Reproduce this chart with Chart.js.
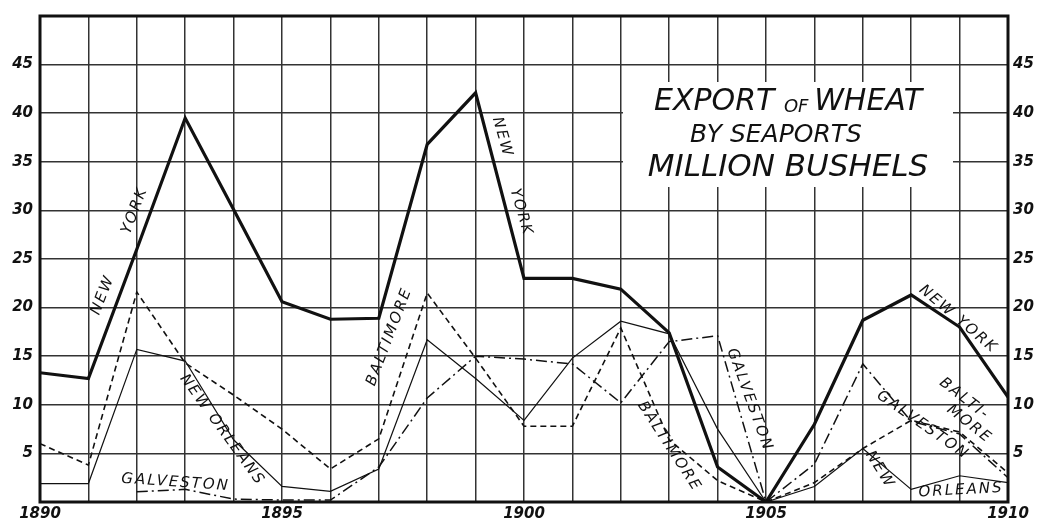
<!DOCTYPE html>
<html>
<head>
<meta charset="utf-8">
<title>Export of wheat by seaports</title>
<script src="https://cdn.jsdelivr.net/npm/chart.js@4.4.1/dist/chart.umd.min.js"></script>
<style>
    html, body { margin: 0; padding: 0; background: #fff; }
    #wrap { width: 1039px; height: 524px; }
</style>
</head>
<body>
<div id="wrap"><canvas id="wheat-chart"></canvas></div>
<script>
// million bushels
const years = [1890, 1891, 1892, 1893, 1894, 1895, 1896, 1897, 1898, 1899, 1900,
    1901, 1902, 1903, 1904, 1905, 1906, 1907, 1908, 1909, 1910];
const newYork = [13.3, 12.7, 26.0, 39.5, 30.1, 20.6, 18.8, 18.9, 36.8, 42.1, 23.0,
    23.0, 21.9, 17.4, 3.6, 0, 8.0, 18.7, 21.3, 18.0, 10.8];
const baltimore = [6.0, 3.8, 21.6, 14.3, 11.0, 7.5, 3.4, 6.5, 21.5, 14.8, 7.8,
    7.8, 17.9, 6.4, 2.2, 0, 2.0, 5.5, 8.4, 7.2, 3.0];
const newOrleans = [1.9, 1.9, 15.7, 14.5, 6.4, 1.6, 1.1, 3.4, 16.7, 12.7, 8.4,
    14.8, 18.6, 17.3, 7.5, 0, 1.6, 5.5, 1.3, 2.7, 2.0];
const galveston = [null, null, 1.05, 1.3, 0.3, 0.2, 0.2, 3.6, 10.7, 15.0, 14.7,
    14.2, 10.2, 16.5, 17.1, 0, 3.9, 14.2, 8.3, 7.0, 2.5];

const yearLabels = [1890, 1895, 1900, 1905, 1910];
const valueLabels = [5, 10, 15, 20, 25, 30, 35, 40, 45];

const titleLines = ['EXPORT OF WHEAT', 'BY SEAPORTS', 'MILLION BUSHELS'];

// series names written along the lines: [text, year, value, angle]
const lineNotes = [
    ['NEW', 1891.30, 21.3, -69],
    ['YORK', 1891.96, 30.0, -69],
    ['NEW', 1899.55, 37.5, 74],
    ['YORK', 1899.94, 29.8, 74],
    ['NEW ORLEANS', 1893.76, 7.4, 54],
    ['GALVESTON', 1892.8, 2.0, 4],
    ['BALTIMORE', 1897.22, 17.0, -69],
    ['BALTIMORE', 1903.0, 5.7, 57],
    ['GALVESTON', 1904.66, 10.5, 70],
    ['NEW YORK', 1908.97, 18.8, 40],
    ['BALTI-', 1909.1, 10.6, 38],
    ['MORE', 1909.2, 8.0, 38],
    ['GALVESTON', 1908.24, 7.9, 35],
    ['NEW', 1907.35, 3.3, 58],
    ['ORLEANS', 1909.03, 1.2, -3],
];

const ink = '#111';
const hand = '"DejaVu Sans", sans-serif';

function points(values) {
    return years.map((yr, i) => ({ x: yr, y: values[i] }));
}

const paperPlugin = {
    id: 'paper',
    beforeDatasetsDraw(chart) {
        const { ctx, chartArea: a } = chart;
        ctx.save();

        // blank panel for the title
        ctx.fillStyle = '#fff';
        ctx.fillRect(a.left + 583, 82, 330, 105);

        ctx.fillStyle = ink;
        ctx.textBaseline = 'middle';
        ctx.textAlign = 'left';

        const cx = a.left + 748;
        // first line with the small "OF"
        const big = 'italic 30px ' + hand;
        const small = 'italic 18px ' + hand;
        const parts = [['EXPORT ', big], ['OF ', small], ['WHEAT', big]];
        let w = 0;
        parts.forEach(([t, f]) => { ctx.font = f; w += ctx.measureText(t).width; });
        let x = cx - w / 2;
        parts.forEach(([t, f]) => {
            ctx.font = f;
            ctx.fillText(t, x, t === 'OF ' ? 107 : 102);
            x += ctx.measureText(t).width;
        });

        ctx.textAlign = 'center';
        ctx.font = 'italic 25px ' + hand;
        ctx.fillText(titleLines[1], cx - 12, 135);
        ctx.font = 'italic 31px ' + hand;
        ctx.fillText(titleLines[2], cx, 168);

        ctx.restore();
    },
    afterDatasetsDraw(chart) {
        const { ctx, chartArea: a, scales } = chart;
        ctx.save();

        ctx.fillStyle = ink;
        ctx.textAlign = 'center';
        ctx.textBaseline = 'middle';
        ctx.font = 'italic 15px ' + hand;
        ctx.letterSpacing = '2px';
        lineNotes.forEach(([text, yr, v, angle]) => {
            ctx.save();
            ctx.translate(scales.x.getPixelForValue(yr), scales.y.getPixelForValue(v));
            ctx.rotate(angle * Math.PI / 180);
            ctx.fillText(text, 0, 0);
            ctx.restore();
        });

        // heavy frame
        ctx.strokeStyle = ink;
        ctx.lineWidth = 3;
        ctx.strokeRect(a.left, a.top, a.right - a.left, a.bottom - a.top);
        ctx.restore();
    },
};

const tickFont = { family: hand, size: 15, style: 'italic', weight: 'bold' };

new Chart(document.getElementById('wheat-chart'), {
    type: 'line',
    data: {
        datasets: [
            {
                label: 'New York',
                data: points(newYork),
                borderColor: ink,
                borderWidth: 3.2,
            },
            {
                label: 'Baltimore',
                data: points(baltimore),
                borderColor: ink,
                borderWidth: 1.6,
                borderDash: [6, 4],
            },
            {
                label: 'New Orleans',
                data: points(newOrleans),
                borderColor: ink,
                borderWidth: 1.2,
            },
            {
                label: 'Galveston',
                data: points(galveston),
                borderColor: ink,
                borderWidth: 1.5,
                borderDash: [11, 4, 2, 4],
            },
        ],
    },
    options: {
        responsive: true,
        maintainAspectRatio: false,
        animation: false,
        layout: { padding: { top: 12 } },
        elements: {
            point: { radius: 0 },
            line: { tension: 0, fill: false, borderJoinStyle: 'miter' },
        },
        plugins: {
            legend: { display: false },
            tooltip: { enabled: false },
        },
        scales: {
            x: {
                type: 'linear',
                min: 1890,
                max: 1910,
                afterFit: (s) => { s.height = 22; },
                grid: { color: '#333', lineWidth: 1.5, drawTicks: false },
                border: { display: false },
                ticks: {
                    stepSize: 1,
                    autoSkip: false,
                    maxRotation: 0,
                    padding: 3,
                    color: ink,
                    font: tickFont,
                    callback: (v) => (yearLabels.includes(v) ? String(v) : ''),
                },
            },
            y: {
                position: 'left',
                min: 0,
                max: 50,
                afterFit: (s) => { s.width = 40; },
                grid: { color: '#333', lineWidth: 1.5, drawTicks: false },
                border: { display: false },
                ticks: {
                    stepSize: 5,
                    padding: 7,
                    color: ink,
                    font: tickFont,
                    callback: (v) => (valueLabels.includes(v) ? String(v) : ''),
                },
            },
            y2: {
                position: 'right',
                min: 0,
                max: 50,
                afterFit: (s) => { s.width = 31; },
                grid: { display: false, drawTicks: false },
                border: { display: false },
                ticks: {
                    stepSize: 5,
                    padding: 5,
                    color: ink,
                    font: tickFont,
                    callback: (v) => (valueLabels.includes(v) ? String(v) : ''),
                },
            },
        },
    },
    plugins: [paperPlugin],
});
</script>
</body>
</html>
